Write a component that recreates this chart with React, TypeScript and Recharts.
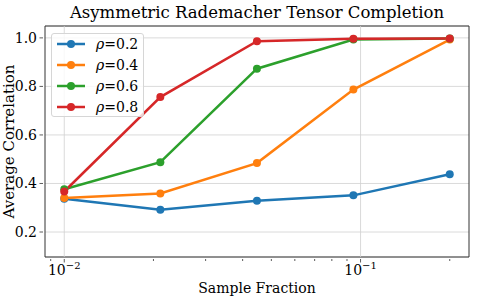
import {
  CartesianGrid,
  Line,
  LineChart,
  ReferenceArea,
  ReferenceLine,
  XAxis,
  YAxis,
} from 'recharts';

const sampleFractions = [0.01, 0.0211, 0.0447, 0.0946, 0.2];
const rho02 = [0.337, 0.292, 0.329, 0.351, 0.438];
const rho04 = [0.34, 0.359, 0.484, 0.787, 0.993];
const rho06 = [0.376, 0.488, 0.873, 0.993, 0.997];
const rho08 = [0.367, 0.756, 0.986, 0.996, 0.997];

const seriesLabels = ['0.2', '0.4', '0.6', '0.8'];
const seriesKeys = ['r02', 'r04', 'r06', 'r08'];
const seriesColors = ['#1f77b4', '#ff7f0e', '#2ca02c', '#d62728'];

const majorXTicks = [0.01, 0.1];
const minorXTicks = [0.009, 0.02, 0.03, 0.04, 0.05, 0.06, 0.07, 0.08, 0.09, 0.2];
const yTicks = [0.2, 0.4, 0.6, 0.8, 1.0];

const X_DOMAIN = [0.00861, 0.2323];
const Y_DOMAIN = [0.097, 1.049];

const FONT = '"DejaVu Serif", serif';
const SPINE = '#333333';
const GRID = '#d0d0d0';

const data = sampleFractions.map((x, i) => ({
  x,
  r02: rho02[i],
  r04: rho04[i],
  r06: rho06[i],
  r08: rho08[i],
}));

function XTick(props: any) {
  const { x, y, payload } = props;
  const v = payload.value;
  const major = majorXTicks.includes(v);
  const exp = Math.round(Math.log10(v));
  return (
    <g>
      <line x1={x} x2={x} y1={y} y2={y + (major ? 3.5 : 2)} stroke={SPINE} strokeWidth={0.8} />
      {major && (
        <text x={x} y={y + 16} textAnchor="middle" style={{ fontFamily: FONT, fontSize: 14 }} fill="#000">
          10
          <tspan dy={-6} style={{ fontSize: 10 }}>
            {'−' + Math.abs(exp)}
          </tspan>
        </text>
      )}
    </g>
  );
}

function YTick(props: any) {
  const { x, y, payload } = props;
  return (
    <g>
      <line x1={x - 3.5} x2={x} y1={y} y2={y} stroke={SPINE} strokeWidth={0.8} />
      <text x={x - 6} y={y} dy={5} textAnchor="end" style={{ fontFamily: FONT, fontSize: 14 }} fill="#000">
        {payload.value.toFixed(1)}
      </text>
    </g>
  );
}

function YLabel(props: any) {
  const { viewBox } = props;
  const cy = viewBox.y + viewBox.height / 2;
  const cx = 9;
  return (
    <text
      x={cx}
      y={cy}
      transform={`rotate(-90, ${cx}, ${cy})`}
      textAnchor="middle"
      dominantBaseline="central"
      style={{ fontFamily: FONT, fontSize: 15 }}
      fill="#000"
    >
      Average Correlation
    </text>
  );
}

function LegendBox() {
  return (
    <div
      style={{
        position: 'absolute',
        left: 51,
        top: 33,
        width: 93,
        height: 84,
        background: 'rgba(255,255,255,0.8)',
        border: '1px solid #d6d6d6',
        borderRadius: 3,
        boxSizing: 'border-box',
        fontFamily: FONT,
      }}
    >
      {seriesLabels.map((lab, i) => (
        <div key={lab} style={{ display: 'flex', alignItems: 'center', height: 20.8 }}>
          <svg width={40} height={12} style={{ marginLeft: 4 }}>
            <line x1={1} x2={29} y1={6} y2={6} stroke={seriesColors[i]} strokeWidth={2.5} />
            <circle cx={15} cy={6} r={4} fill={seriesColors[i]} />
          </svg>
          <span style={{ fontFamily: FONT, fontSize: 14, whiteSpace: 'nowrap' }}>
            <i>ρ</i>={lab}
          </span>
        </div>
      ))}
    </div>
  );
}

export default function App() {
  return (
    <div
      style={{
        position: 'absolute',
        left: 0,
        top: 0,
        width: 478,
        height: 299,
        background: '#fff',
        fontFamily: FONT,
      }}
    >
      <div
        style={{
          position: 'absolute',
          left: 45,
          width: 424,
          top: 3,
          textAlign: 'center',
          fontFamily: FONT,
          fontSize: 16.5,
          color: '#000',
          whiteSpace: 'nowrap',
        }}
      >
        Asymmetric Rademacher Tensor Completion
      </div>
      <LineChart width={478} height={299} data={data} margin={{ top: 26, right: 9, bottom: 0, left: 0 }}>
        <CartesianGrid vertical={false} stroke={GRID} strokeWidth={0.8} />
        {majorXTicks.map((t) => (
          <ReferenceLine key={t} x={t} stroke={GRID} strokeWidth={0.8} />
        ))}
        <XAxis
          dataKey="x"
          type="number"
          scale="log"
          domain={X_DOMAIN}
          allowDataOverflow
          ticks={[...majorXTicks, ...minorXTicks].sort((a, b) => a - b)}
          tick={<XTick />}
          tickLine={false}
          tickSize={0}
          height={42}
          axisLine={false}
          interval={0}
          label={{
            value: 'Sample Fraction',
            position: 'insideBottom',
            offset: 6,
            style: { fontFamily: FONT, fontSize: 14 },
            fill: '#000',
          }}
        />
        <YAxis
          type="number"
          domain={Y_DOMAIN}
          allowDataOverflow
          ticks={yTicks}
          tick={<YTick />}
          tickLine={false}
          tickSize={0}
          width={45}
          axisLine={false}
          interval={0}
          label={{ content: (p: any) => <YLabel {...p} /> }}
        />
        {seriesKeys.map((k, i) => (
          <Line
            key={k}
            dataKey={k}
            name={'ρ=' + seriesLabels[i]}
            stroke={seriesColors[i]}
            strokeWidth={2.5}
            dot={{ r: 4, fill: seriesColors[i], stroke: seriesColors[i], strokeWidth: 0 }}
            isAnimationActive={false}
          />
        ))}
        <ReferenceArea
          x1={X_DOMAIN[0]}
          x2={X_DOMAIN[1]}
          y1={Y_DOMAIN[0]}
          y2={Y_DOMAIN[1]}
          fill="none"
          stroke={SPINE}
          strokeWidth={1}
          ifOverflow="visible"
        />
      </LineChart>
      <LegendBox />
    </div>
  );
}
